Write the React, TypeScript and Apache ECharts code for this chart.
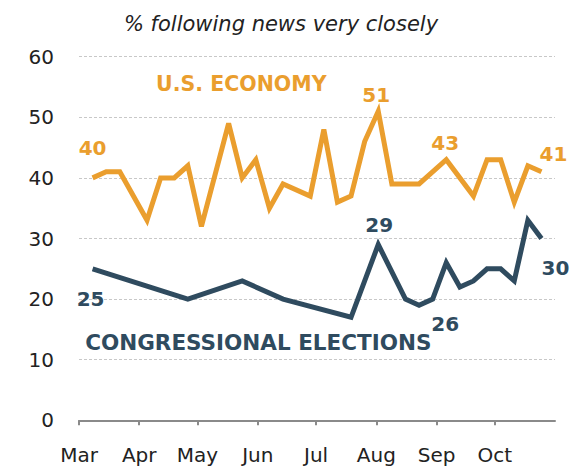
import React, { useEffect, useRef } from "react";
import * as echarts from "echarts";

const econDates = [
  "2010-03-08", "2010-03-15", "2010-03-22", "2010-04-05", "2010-04-12", "2010-04-19", "2010-04-26",
  "2010-05-03", "2010-05-17", "2010-05-24", "2010-05-31", "2010-06-07", "2010-06-14", "2010-06-28",
  "2010-07-05", "2010-07-12", "2010-07-19", "2010-07-26", "2010-08-02", "2010-08-09", "2010-08-23",
  "2010-09-06", "2010-09-20", "2010-09-27", "2010-10-04", "2010-10-11", "2010-10-18", "2010-10-25",
];
const econValues = [40, 41, 41, 33, 40, 40, 42, 32, 49, 40, 43, 35, 39, 37, 48, 36, 37, 46, 51, 39, 39, 43, 37, 43, 43, 36, 42, 41];

const electDates = [
  "2010-03-08", "2010-04-26", "2010-05-24", "2010-06-14", "2010-07-19", "2010-08-02", "2010-08-16",
  "2010-08-23", "2010-08-30", "2010-09-06", "2010-09-13", "2010-09-20", "2010-09-27", "2010-10-04",
  "2010-10-11", "2010-10-18", "2010-10-25",
];
const electValues = [25, 20, 23, 20, 17, 29, 20, 19, 20, 26, 22, 23, 25, 25, 23, 33, 30];

const monthLabels = ["Jan", "Feb", "Mar", "Apr", "May", "Jun", "Jul", "Aug", "Sep", "Oct", "Nov", "Dec"];
const yTicks = [0, 10, 20, 30, 40, 50, 60];

const TITLE = "% following news very closely";
const ECON_NAME = "U.S. ECONOMY";
const ELECT_NAME = "CONGRESSIONAL ELECTIONS";

const ORANGE = "#EA9E2E";
const SLATE = "#2F4B5F";

// label offsets (dx, dy) for labelled points, keyed by index
const econLabelOffsets: Record<number, [number, number]> = {
  0: [0, -30],
  18: [-2, -16],
  21: [-1, -17],
  27: [12, -18],
};
const electLabelOffsets: Record<number, [number, number]> = {
  0: [-2, 30],
  5: [1, -20],
  9: [-1, 61],
  16: [14, 29],
};

function buildData(dates: string[], values: number[], offsets: Record<number, [number, number]>, color: string) {
  return dates.map((d, i) => {
    const item: any = { value: [d, values[i]] };
    if (offsets[i]) {
      item.label = {
        show: true,
        position: offsets[i],
        align: "center",
        verticalAlign: "middle",
        color,
        fontSize: 20,
        fontWeight: "bold",
        fontFamily: "DejaVu Sans",
        formatter: (p: any) => String(p.value[1]),
      };
    }
    return item;
  });
}

export default function App() {
  const ref = useRef<HTMLDivElement>(null);
  useEffect(() => {
    if (!ref.current) return;
    const chart = echarts.init(ref.current, undefined, { renderer: "svg" });
    chart.setOption({
      animation: false,
      backgroundColor: "#ffffff",
      grid: { left: 79, right: 26, top: 56.7, bottom: 47.7, containLabel: false },
      xAxis: {
        type: "time",
        min: "2010-03-01",
        max: "2010-10-31 23:00:00",
        splitNumber: 8,
        axisLine: { show: true, lineStyle: { color: "#8a8a8a", width: 2 } },
        axisTick: { show: true, length: 5, lineStyle: { color: "#8a8a8a", width: 2 } },
        splitLine: { show: false },
        axisLabel: {
          fontSize: 20,
          fontFamily: "DejaVu Sans",
          color: "#222",
          margin: 25,
          hideOverlap: false,
          formatter: (v: number) => monthLabels[new Date(v).getMonth()],
        },
      },
      yAxis: {
        type: "value",
        min: yTicks[0],
        max: yTicks[yTicks.length - 1],
        interval: 10,
        axisLine: { show: false },
        axisTick: { show: false },
        axisLabel: { fontSize: 20, fontFamily: "DejaVu Sans", color: "#222", margin: 25 },
        splitLine: { show: true, lineStyle: { color: "#c8c8c8", type: [3, 2], width: 1 } },
      },
      graphic: [
        {
          type: "text",
          x: 281,
          y: 24,
          style: {
            text: TITLE,
            fill: "#222",
            font: 'italic 21px "DejaVu Sans"',
            textAlign: "center",
            textVerticalAlign: "middle",
          },
        },
        {
          type: "text",
          x: 241.3,
          y: 84,
          style: {
            text: ECON_NAME,
            fill: ORANGE,
            font: 'bold 20.5px "DejaVu Sans"',
            textAlign: "center",
            textVerticalAlign: "middle",
          },
        },
        {
          type: "text",
          x: 258.3,
          y: 342,
          style: {
            text: ELECT_NAME,
            fill: SLATE,
            font: 'bold 21.5px "DejaVu Sans"',
            textAlign: "center",
            textVerticalAlign: "middle",
          },
        },
      ],
      series: [
        {
          type: "line",
          name: ECON_NAME,
          data: buildData(econDates, econValues, econLabelOffsets, ORANGE),
          symbol: "circle",
          symbolSize: 0,
          showSymbol: true,
          lineStyle: { color: ORANGE, width: 5, join: "miter" },
          itemStyle: { color: ORANGE },
          emphasis: { disabled: true },
          z: 3,
        },
        {
          type: "line",
          name: ELECT_NAME,
          data: buildData(electDates, electValues, electLabelOffsets, SLATE),
          symbol: "circle",
          symbolSize: 0,
          showSymbol: true,
          lineStyle: { color: SLATE, width: 5, join: "miter" },
          itemStyle: { color: SLATE },
          emphasis: { disabled: true },
          z: 3,
        },
      ],
    });
    return () => chart.dispose();
  }, []);
  return (
    <div
      ref={ref}
      style={{ position: "absolute", left: 0, top: 0, width: 581, height: 468, background: "#fff" }}
    />
  );
}
